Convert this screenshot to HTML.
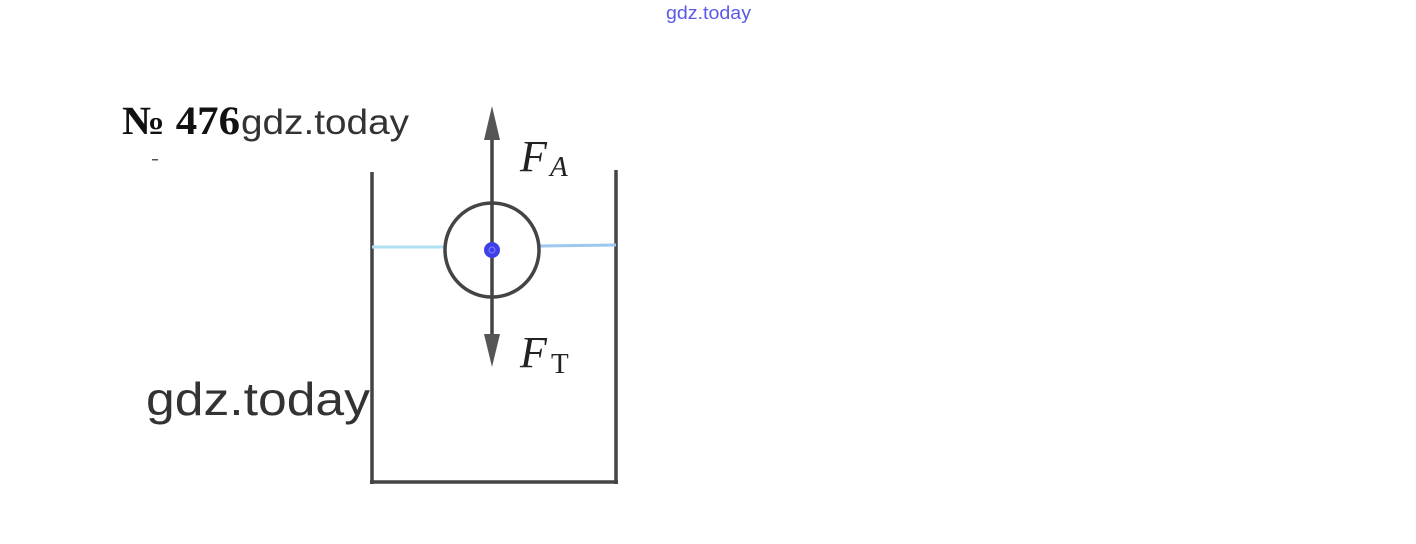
<!DOCTYPE html>
<html><head><meta charset="utf-8"><style>
html,body{margin:0;padding:0;background:#fff;width:1416px;height:544px;overflow:hidden}
svg{display:block}
</style></head><body>
<svg width="1416" height="544" viewBox="0 0 1416 544" xmlns="http://www.w3.org/2000/svg">
<rect width="1416" height="544" fill="#fff"/>
<text x="666" y="19" font-family="Liberation Sans, sans-serif" font-size="18" fill="#5a5ae6" textLength="85" lengthAdjust="spacingAndGlyphs">gdz.today</text>
<text x="122" y="134" font-family="Liberation Serif, serif" font-weight="bold" font-size="40" fill="#111" textLength="118" lengthAdjust="spacingAndGlyphs">№ 476</text>
<text x="241" y="134" font-family="Liberation Sans, sans-serif" font-size="35" fill="#333" textLength="168" lengthAdjust="spacingAndGlyphs">gdz.today</text>
<text x="146" y="415" font-family="Liberation Sans, sans-serif" font-size="46" fill="#333" textLength="224" lengthAdjust="spacingAndGlyphs">gdz.today</text>
<rect x="152" y="159" width="6" height="1.5" fill="#555"/>
<g stroke="#444" stroke-width="3.5" fill="none">
<line x1="372" y1="172" x2="372" y2="484"/>
<line x1="616" y1="170" x2="616" y2="484"/>
<line x1="370" y1="482" x2="618" y2="482"/>
</g>
<line x1="372" y1="247" x2="445" y2="247" stroke="#aee0f2" stroke-width="3"/>
<line x1="540" y1="246" x2="616" y2="245" stroke="#9cc8f0" stroke-width="3"/>
<line x1="492" y1="130" x2="492" y2="340" stroke="#444" stroke-width="3.5"/>
<polygon points="492,106 484,140 500,140" fill="#555"/>
<polygon points="492,367 484,334 500,334" fill="#555"/>
<circle cx="492" cy="250" r="47" fill="none" stroke="#444" stroke-width="3.5"/>
<circle cx="492" cy="250" r="8" fill="#3f3fe8"/>
<circle cx="492" cy="250" r="3" fill="none" stroke="#8080ff" stroke-width="1"/>
<text x="520" y="171" font-family="Liberation Serif, serif" font-style="italic" font-size="44" fill="#222">F</text>
<text x="550" y="176" font-family="Liberation Serif, serif" font-style="italic" font-size="29" fill="#222">A</text>
<text x="520" y="367" font-family="Liberation Serif, serif" font-style="italic" font-size="44" fill="#222">F</text>
<text x="551" y="373" font-family="Liberation Serif, serif" font-size="29" fill="#222">T</text>
</svg>
</body></html>
